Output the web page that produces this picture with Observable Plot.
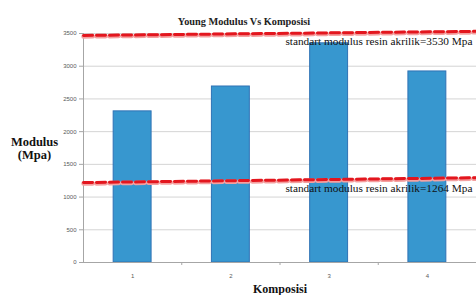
<!DOCTYPE html>
<html>
<head>
<meta charset="utf-8">
<script src="https://cdn.jsdelivr.net/npm/d3@7"></script>
<script src="https://cdn.jsdelivr.net/npm/@observablehq/plot@0.6"></script>
<style>
  html, body { margin: 0; padding: 0; background: #fff; }
  #chart svg { display: block; }
</style>
</head>
<body>
<div id="chart"></div>
<script>
const categories = [1, 2, 3, 4];
const modulus = [2310, 2690, 3350, 2920];
const yTicks = [0, 500, 1000, 1500, 2000, 2500, 3000, 3500];
const standardValues = [3530, 1264];
const standardLabels = ["standart modulus resin akrilik=3530 Mpa", "standart modulus resin akrilik=1264 Mpa"];
const upperLineEnds = [3470, 3533];
const lowerLineEnds = [1222, 1296];
const title = "Young Modulus Vs Komposisi";
const yLabel = "Modulus\n(Mpa)";
const xLabel = "Komposisi";

const bars = categories.map((k, i) => ({k, v: modulus[i]}));
const xMin = 0.5, xMax = 4.5;
const upperLine = [{x: xMin, y: upperLineEnds[0]}, {x: xMax, y: upperLineEnds[1]}];
const lowerLine = [{x: xMin, y: lowerLineEnds[0]}, {x: xMax, y: lowerLineEnds[1]}];
const halfBar = 0.193;
const serif = "'Liberation Serif', 'DejaVu Serif', serif";
const noteStyle = {x: xMax, textAnchor: "end", dx: -4, fontSize: 11.3, fontFamily: serif, fill: "#111"};

const chart = Plot.plot({
  width: 476,
  height: 295,
  marginLeft: 83,
  marginRight: 0,
  marginTop: 33,
  marginBottom: 33,
  style: {fontFamily: "'Liberation Sans', sans-serif", background: "#fff"},
  x: {type: "linear", domain: [xMin, xMax]},
  y: {domain: [0, 3500]},
  marks: [
    Plot.ruleY(yTicks.filter(t => t > 0), {stroke: "#d4d4d4", strokeWidth: 1}),
    Plot.rectY(bars, {x1: d => d.k - halfBar, x2: d => d.k + halfBar, y: "v", fill: "#3797cf", stroke: "#2f72b5", strokeWidth: 1}),
    Plot.ruleY([0], {stroke: "#a6a6a6"}),
    Plot.ruleX([xMin], {stroke: "#a6a6a6"}),
    Plot.axisY({ticks: yTicks, tickFormat: d => String(d), tickSize: 4, tickPadding: 3, fontSize: 6, color: "#595959", stroke: "#a6a6a6", label: null}),
    Plot.axisX({ticks: categories, tickFormat: d => String(d), tickSize: 0, tickPadding: 11, fontSize: 6, color: "#595959", label: null}),
    Plot.axisX({ticks: [1.5, 2.5, 3.5], tickSize: 3, tickFormat: () => "", stroke: "#a6a6a6", label: null}),
    Plot.line(upperLine, {x: "x", y: "y", stroke: "#f4a0a0", strokeWidth: 4.5, strokeDasharray: "9,4", dy: 1}),
    Plot.line(upperLine, {x: "x", y: "y", stroke: "#e3161e", strokeWidth: 3, strokeDasharray: "9,4"}),
    Plot.line(lowerLine, {x: "x", y: "y", stroke: "#f4a0a0", strokeWidth: 4.5, strokeDasharray: "9,4", dy: 1}),
    Plot.line(lowerLine, {x: "x", y: "y", stroke: "#e3161e", strokeWidth: 3, strokeDasharray: "9,4"}),
    Plot.text([standardLabels[0]], {...noteStyle, y: [standardValues[0]], dy: 10}),
    Plot.text([standardLabels[1]], {...noteStyle, y: [standardValues[1]], dy: 9}),
    Plot.text([title], {frameAnchor: "top", dx: -36, dy: -16, fontSize: 10.3, fontWeight: "bold", fontFamily: serif, fill: "#222"}),
    Plot.text([yLabel], {frameAnchor: "left", dx: -49, textAnchor: "middle", lineHeight: 1.05, fontSize: 12.5, fontWeight: "bold", fontFamily: serif, fill: "#111"}),
    Plot.text([xLabel], {frameAnchor: "bottom", dy: 30, fontSize: 12, fontWeight: "bold", fontFamily: serif, fill: "#111"})
  ]
});
document.getElementById("chart").appendChild(chart);
</script>
</body>
</html>
